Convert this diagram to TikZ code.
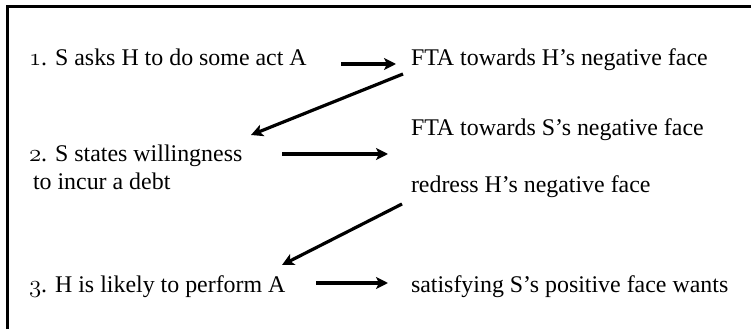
\documentclass[tikz,border=0pt]{standalone}
\usepackage{fontspec}
\setmainfont{Liberation Serif}
\usetikzlibrary{arrows.meta,calc}
\newcommand\osnum[1]{{\usefont{OML}{cmm}{m}{it}#1}}
\begin{document}
\begin{tikzpicture}[x=1pt,y=1pt,
  lbl/.style={anchor=base west,inner sep=0pt,outer sep=0pt,font=\fontsize{23.9}{28}\selectfont},
  arr/.style={line width=3.2pt,-{Stealth[length=12pt,width=12pt,inset=3pt]}},
  frameline/.style={line width=3pt}]
\useasboundingbox (0,0) rectangle (751,329);
% frame (only top and left edges visible)
\coordinate (fb) at (7.5,0);
\coordinate (fc) at (7.5,322.5);
\coordinate (fr) at (751,322.5);
\draw[frameline] (fb) -- (fc) -- (fr);
% left column
\node[lbl] (t1) at (29,263) {\osnum{1}. S asks H to do some act A};
\node[lbl,align=left] (t2) at (29,139) {\osnum{2}. S states willingness\\[0pt]\hspace*{4pt}to incur a debt};
\node[lbl] (t3) at (29,37) {\osnum{3}. H is likely to perform A};
% right column
\node[lbl] (r1) at (411,263) {FTA towards H’s negative face};
\node[lbl] (r2a) at (411,193) {FTA towards S’s negative face};
\node[lbl] (r2b) at (411,136) {redress H’s negative face};
\node[lbl] (r3) at (411,37) {satisfying S’s positive face wants};
% arrow ends
\coordinate (a1s) at (341,265);
\coordinate (a1e) at (396,265);
\coordinate (d1s) at (403,255);
\coordinate (d1e) at (251,194);
\coordinate (a2s) at (282,175);
\coordinate (a2e) at (388,175);
\coordinate (d2s) at (402,125);
\coordinate (d2e) at (282,64);
\coordinate (a3s) at (316,46);
\coordinate (a3e) at (388,46);
\draw[arr] (a1s) -- (a1e);
\draw[arr] (d1s) -- (d1e);
\draw[arr] (a2s) -- (a2e);
\draw[arr] (d2s) -- (d2e);
\draw[arr] (a3s) -- (a3e);
\end{tikzpicture}
\end{document}
